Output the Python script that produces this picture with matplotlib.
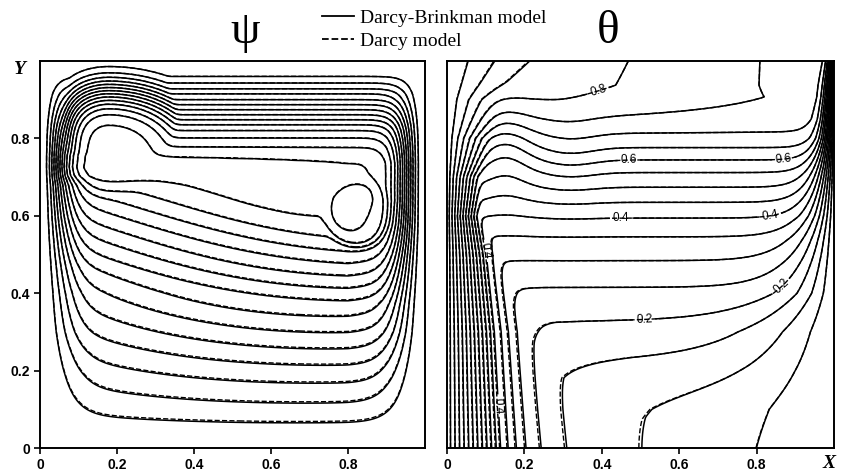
import numpy as np
import matplotlib.pyplot as plt
from matplotlib.lines import Line2D

# ---- stream function ----
# heights where the psi contours cross x = 0.64, below and above the core
psi_low_y = [0.0, 0.065, 0.116, 0.168, 0.215, 0.258, 0.301, 0.344, 0.388,
             0.422, 0.456, 0.491, 0.525, 0.56, 0.607]
psi_high_y = [1.0, 0.96, 0.943, 0.928, 0.915, 0.9, 0.887, 0.874, 0.861,
              0.848, 0.835, 0.82, 0.801, 0.777, 0.745]
psi_core_y = 0.676
psi_peak = 14.45
psi_slope = -0.25          # tilt of the core line
# two vortex cores: x, y, top value, size, stretch to the right, sharpness
lobes = [(0.178, 0.762, 14.4, 0.175, 1.5, 4), (0.825, 0.612, 15.3, 0.13, 1.0, 6)]
wall_y = [0.0, 0.3, 0.6, 1.0]
wall_a = [0.1, 0.075, 0.065, 0.06]
bow_y = [0.0, 0.4, 0.7, 1.0]
bow_b = [1.0, 0.8, 0.0, 0.0]

# ---- temperature ----
th_mid_y = [0.0, 0.1, 0.214, 0.313, 0.403, 0.473, 0.537, 0.587, 0.628, 0.667,
            0.706, 0.739, 0.77, 0.806, 0.85, 0.907, 0.938, 1.0]
th_mid_v = [0.06, 0.09, 0.15, 0.2, 0.25, 0.3, 0.35, 0.4, 0.45, 0.5,
            0.55, 0.6, 0.65, 0.7, 0.75, 0.79, 0.8, 0.804]
th_side_y = [0.0, 0.8, 0.85, 0.938, 1.0]
th_side_k = [0.0, 0.0, 0.03, 0.135, 0.147]
th_bot_x = [0.0, 0.13, 0.141, 0.163, 0.184, 0.21, 0.253, 0.326, 0.53, 0.8, 1.0]
th_bot_v = [1.0, 0.45, 0.4, 0.35, 0.3, 0.25, 0.2, 0.15, 0.108, 0.087, 0.08]
hot_y = [0.0, 0.3, 0.5, 0.6, 0.7, 0.8, 0.9, 1.0]
hot_w = [1.0, 0.88, 0.73, 0.6, 0.75, 1.3, 2.6, 5.5]
cold_y = [0.0, 0.1, 0.2, 0.3, 0.4, 0.6, 0.8, 1.0]
cold_w = [0.3, 0.29, 0.26, 0.22, 0.13, 0.07, 0.035, 0.015]

psi_levels = np.arange(1, 16)
th_levels = [round(0.05 * k, 2) for k in range(1, 20)]
th_labelled = [0.2, 0.4, 0.6, 0.8]
th_plain = [lv for lv in th_levels if lv not in th_labelled]
lab_pos = [(0.395, 0.907), (0.47, 0.739), (0.87, 0.739), (0.45, 0.589),
           (0.84, 0.568), (0.103, 0.51), (0.141, 0.11), (0.51, 0.313), (0.87, 0.41)]
ticks = [0, 0.2, 0.4, 0.6, 0.8]
tick_labels = ['0', '0.2', '0.4', '0.6', '0.8']


def psi_field(x, y, shift=0.0):
    y = y - shift * (1 - y)
    y0 = psi_core_y
    d = np.clip(psi_slope * (x - 0.64), -0.04, 0.14)
    phi = np.where(y < y0, (np.clip(y, 0, None) / y0) ** 1.5,
                   np.exp(-((y - y0) / 0.05) ** 2))
    eta = y - d * phi
    ys = list(psi_low_y) + [y0] + list(psi_high_y[::-1])
    lv = list(range(len(psi_low_y))) + [psi_peak] + list(range(len(psi_high_y)))[::-1]
    base = np.interp(eta, ys, lv)
    top = np.zeros_like(base)
    for cx, cy, amp, r, sx, q in lobes:
        dx = np.where(x > cx, (x - cx) / sx, x - cx)
        rr = np.hypot(dx, y - cy)
        top = np.maximum(top, amp * np.exp(-(rr / r) ** q))
    m = 30
    f = (base ** m + top ** m) ** (1 / m)
    a = np.interp(y, wall_y, wall_a)
    s = (1 - np.exp(-(x / a) ** 2)) * (1 - np.exp(-((1 - x) / a) ** 2))
    s = s * (1 - np.interp(y, bow_y, bow_b) * (x - 0.6) ** 2)
    return f * s


def theta_field(x, y, shift=0.0):
    d = np.interp(y, hot_y, hot_w)
    g = np.interp(x / d * (1 + shift), th_bot_x, th_bot_v)
    band = np.exp(-((y - 0.78) / 0.14) ** 2)
    hump = (0.04 * np.exp(-((x - 0.15) / 0.07) ** 2)
            - 0.015 * np.exp(-((x - 0.32) / 0.08) ** 2)) * band
    hi = np.interp(y - hump, th_mid_y, th_mid_v)
    hi = hi + np.interp(y, th_side_y, th_side_k) * (0.5 - x)
    t = 0.025
    core = t * np.logaddexp(g / t, hi / t) - 0.5 * t * np.log(2)
    w = np.interp(y, cold_y, cold_w)
    return core * np.tanh((1 - x) / w)


xs = np.linspace(0, 1, 401)
X, Y = np.meshgrid(xs, xs)

plt.rcParams['font.family'] = 'Liberation Sans'
fig = plt.figure(figsize=(8.43, 4.74), dpi=100)
ax1 = fig.add_axes([40 / 843, 26 / 474, 385 / 843, 387 / 474])
ax2 = fig.add_axes([447 / 843, 26 / 474, 387 / 843, 387 / 474])

ax1.contour(X, Y, psi_field(X, Y, 0.004), levels=psi_levels, colors='k',
            linewidths=1.0, linestyles='--')
ax1.contour(X, Y, psi_field(X, Y), levels=psi_levels, colors='k',
            linewidths=1.1, linestyles='-')

T = theta_field(X, Y)
ax2.contour(X, Y, theta_field(X, Y, 0.02), levels=th_levels, colors='k',
            linewidths=1.0, linestyles='--')
ax2.contour(X, Y, T, levels=th_plain, colors='k', linewidths=1.1, linestyles='-')
cs = ax2.contour(X, Y, T, levels=th_labelled, colors='k', linewidths=1.1,
                 linestyles='-')
ax2.clabel(cs, manual=lab_pos, fmt='%.1f', fontsize=8.5, inline=True,
           inline_spacing=3)

for ax in (ax1, ax2):
    ax.set_xlim(0, 1)
    ax.set_ylim(0, 1)
    ax.set_xticks(ticks)
    ax.set_xticklabels(tick_labels, fontweight='bold', fontsize=10)
    ax.tick_params(direction='out', length=4, width=1.2, pad=3)
    for sp in ax.spines.values():
        sp.set_linewidth(1.4)
ax1.set_yticks(ticks)
ax1.set_yticklabels(tick_labels, fontweight='bold', fontsize=10)
ax2.set_yticks([])

fig.text(20 / 843, 1 - 70 / 474, 'Y', family='Liberation Serif', style='italic',
         fontweight='bold', fontsize=14, ha='center', va='center')
fig.text(829 / 843, 1 - 463 / 474, 'X', family='Liberation Serif', style='italic',
         fontweight='bold', fontsize=14, ha='center', va='center')
fig.text(245 / 843, 1 - 32 / 474, 'ψ', family='Liberation Serif', fontsize=34,
         ha='center', va='center')
fig.text(608 / 843, 1 - 32 / 474, 'θ', family='Liberation Serif', fontsize=34,
         ha='center', va='center')

handles = [Line2D([], [], color='k', lw=1.3, ls='-'),
           Line2D([], [], color='k', lw=1.3, ls='--')]
fig.legend(handles, ['Darcy-Brinkman model', 'Darcy model'], loc='upper left',
           bbox_to_anchor=(322 / 843, 1 - 9 / 474), frameon=False,
           prop={'family': 'Liberation Serif', 'size': 14}, handlelength=1.65,
           labelspacing=0.3, handletextpad=0.3, borderpad=0, borderaxespad=0)

fig.savefig('out.png', dpi=100)
